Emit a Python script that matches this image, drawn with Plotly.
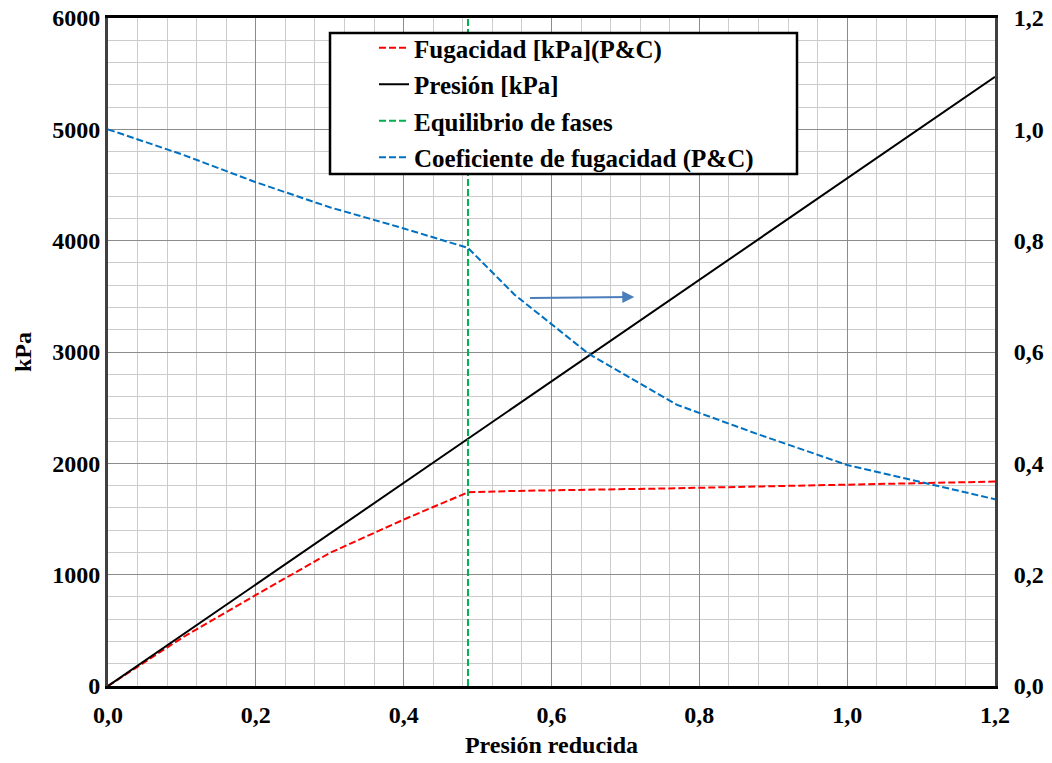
import plotly.graph_objects as go

# ---- data ----
pr = [0.0, 0.1, 0.2, 0.3, 0.4, 0.487, 0.55, 0.65, 0.77, 0.88, 1.0, 1.2]
fugacidad = [0, 432, 818, 1195, 1495, 1740, 1752, 1762, 1776, 1792, 1808, 1836]
coef_fug = [1.0, 0.955, 0.905, 0.860, 0.822, 0.787, 0.703, 0.597, 0.505, 0.452, 0.397, 0.3355]
pr_presion = [0.0, 1.2]
presion = [0, 5472]
pr_equil = [0.487, 0.487]
y_equil = [0, 6000]

x_ticks = [0.0, 0.2, 0.4, 0.6, 0.8, 1.0, 1.2]
x_ticktext = ["0,0", "0,2", "0,4", "0,6", "0,8", "1,0", "1,2"]
y_ticks = [0, 1000, 2000, 3000, 4000, 5000, 6000]
y_ticktext = ["0", "1000", "2000", "3000", "4000", "5000", "6000"]
y2_ticks = [0.0, 0.2, 0.4, 0.6, 0.8, 1.0, 1.2]
y2_ticktext = ["0,0", "0,2", "0,4", "0,6", "0,8", "1,0", "1,2"]

FONT = "Liberation Serif"
dash = "7px,3px"

fig = go.Figure()
fig.add_trace(go.Scatter(x=pr, y=fugacidad, mode="lines", name="Fugacidad [kPa](P&C)",
                         line=dict(color="#ff0000", width=2, dash=dash), legendgroup="a"))
fig.add_trace(go.Scatter(x=pr_presion, y=presion, mode="lines", name="Presión [kPa]",
                         line=dict(color="#000000", width=2), legendgroup="b"))
fig.add_trace(go.Scatter(x=pr_equil, y=y_equil, mode="lines", name="Equilibrio de fases",
                         line=dict(color="#00b050", width=2, dash=dash), legendgroup="c"))
fig.add_trace(go.Scatter(x=pr, y=coef_fug, mode="lines", name="Coeficiente de fugacidad (P&C)",
                         line=dict(color="#0070c0", width=2, dash=dash), yaxis="y2", legendgroup="d"))

# legend frame
fig.add_shape(type="rect", xref="paper", yref="paper",
              x0=(330 - 108) / 887, x1=(797 - 108) / 887,
              y0=(686 - 174) / 668, y1=(686 - 33) / 668,
              fillcolor="white", line=dict(color="black", width=2.5), layer="above")

# arrow pointing to the right axis
fig.add_annotation(x=0.712, y=3495, ax=0.569, ay=3486, xref="x", yref="y", axref="x", ayref="y",
                   text="", showarrow=True, arrowhead=2, arrowsize=1.2, arrowwidth=2,
                   arrowcolor="#4a7ebb")

grid_major = "#8c8c8c"
grid_minor = "#cccccc"

fig.update_layout(
    width=1052, height=763,
    margin=dict(l=108, r=57, t=18, b=77, autoexpand=False),
    paper_bgcolor="white", plot_bgcolor="white",
    font=dict(family=FONT, size=24, color="black", weight="bold"),
    showlegend=True,
    legend=dict(x=(374 - 108) / 887, y=(686 - 25) / 668, xanchor="left", yanchor="top",
                bgcolor="rgba(0,0,0,0)", borderwidth=0, tracegroupgap=1,
                traceorder="grouped",
                font=dict(family=FONT, size=25, color="black", weight="bold")),
    xaxis=dict(range=[0, 1.2], tickvals=x_ticks, ticktext=x_ticktext,
               showgrid=True, gridcolor=grid_major, gridwidth=1,
               minor=dict(dtick=0.04, showgrid=True, gridcolor=grid_minor, gridwidth=1),
               showline=True, linecolor="black", linewidth=2.5, mirror=True,
               ticks="", zeroline=False, automargin=False, ticklabelstandoff=5,
               tickfont=dict(family=FONT, size=24, weight="bold"),
               title=dict(text="Presión reducida", standoff=10,
                          font=dict(family=FONT, size=24, weight="bold"))),
    yaxis=dict(range=[0, 6000], tickvals=y_ticks, ticktext=y_ticktext,
               showgrid=True, gridcolor=grid_major, gridwidth=1,
               minor=dict(dtick=200, showgrid=True, gridcolor=grid_minor, gridwidth=1),
               showline=True, linecolor="#404040", linewidth=3, mirror=False,
               ticks="", zeroline=False, automargin=False,
               tickfont=dict(family=FONT, size=24, weight="bold"),
               title=dict(text="kPa", standoff=14,
                          font=dict(family=FONT, size=24, weight="bold"))),
    yaxis2=dict(range=[0, 1.2], tickvals=y2_ticks, ticktext=y2_ticktext,
                overlaying="y", side="right", showgrid=False, zeroline=False,
                showline=True, linecolor="#404040", linewidth=3, ticks="",
                ticklabelstandoff=11, automargin=False,
                tickfont=dict(family=FONT, size=24, weight="bold")),
)

fig.write_html("out.html")
